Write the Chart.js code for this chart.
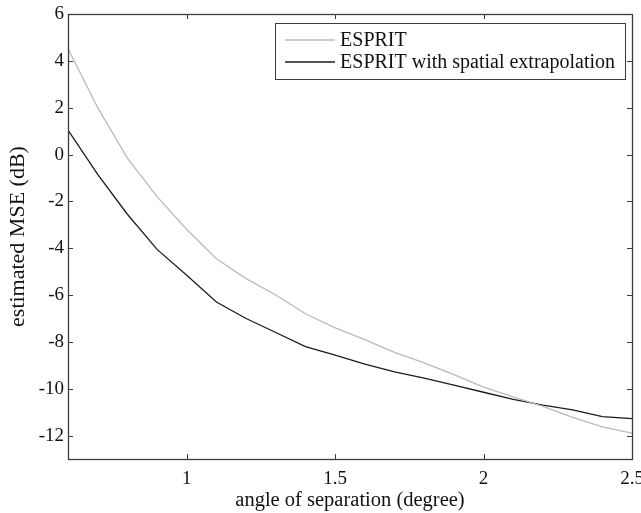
<!DOCTYPE html>
<html>
<head>
<meta charset="utf-8">
<script src="https://cdn.jsdelivr.net/npm/chart.js@4/dist/chart.umd.min.js"></script>
<style>
  html, body { margin: 0; padding: 0; background: #fff; }
  #wrap { width: 641px; height: 513px; }
</style>
</head>
<body>
<div id="wrap"><canvas id="mseChart" width="641" height="513"></canvas></div>
<script>
'use strict';

// angle of separation (degree)
const ANGLES = [0.6, 0.7, 0.8, 0.9, 1.0, 1.1, 1.2, 1.3, 1.4, 1.5, 1.6, 1.7, 1.8, 1.9, 2.0, 2.1, 2.2, 2.3, 2.4, 2.5];
// estimated MSE (dB)
const ESPRIT = [4.52, 2.0, -0.15, -1.8, -3.2, -4.45, -5.3, -6.0, -6.8, -7.4, -7.9, -8.45, -8.9, -9.4, -9.93, -10.35, -10.75, -11.22, -11.63, -11.9];
const ESPRIT_EXTRAP = [1.04, -0.85, -2.55, -4.05, -5.15, -6.3, -7.0, -7.6, -8.2, -8.57, -8.95, -9.28, -9.55, -9.85, -10.15, -10.45, -10.7, -10.9, -11.19, -11.28];
const X_TICKS = [1, 1.5, 2, 2.5];
const Y_TICKS = [-12, -10, -8, -6, -4, -2, 0, 2, 4, 6];

const FONT = 'Liberation Serif';
const AXIS_COLOR = '#3c3c3c';

let toPoints = (ys) => ANGLES.map((x, i) => ({ x: x, y: ys[i] }));

// frame with inward ticks on all four sides, plus boxed legend top right
const framePlugin = {
    id: 'frame',
    afterDatasetsDraw(chart) {
        const ctx = chart.ctx;
        const a = chart.chartArea;
        const xs = chart.scales.x;
        const ys = chart.scales.y;
        const tl = 5;
        ctx.save();
        ctx.strokeStyle = AXIS_COLOR;
        ctx.lineWidth = 1;
        ctx.beginPath();
        for (let v of X_TICKS) {
            const px = Math.round(xs.getPixelForValue(v)) + 0.5;
            ctx.moveTo(px, a.bottom); ctx.lineTo(px, a.bottom - tl);
            ctx.moveTo(px, a.top); ctx.lineTo(px, a.top + tl);
        }
        for (let v of Y_TICKS) {
            const py = Math.round(ys.getPixelForValue(v)) + 0.5;
            ctx.moveTo(a.left, py); ctx.lineTo(a.left + tl, py);
            ctx.moveTo(a.right, py); ctx.lineTo(a.right - tl, py);
        }
        ctx.stroke();
        ctx.lineWidth = 1.3;
        ctx.strokeRect(Math.round(a.left) + 0.5, Math.round(a.top) + 0.5,
            Math.round(a.right - a.left), Math.round(a.bottom - a.top));

        // legend
        const sets = chart.data.datasets;
        ctx.font = '20px "' + FONT + '"';
        let textW = 0;
        for (let d of sets) textW = Math.max(textW, ctx.measureText(d.label).width);
        const right = a.right - 7;
        const left = right - (10 + 50 + 5 + textW + 10);
        const top = a.top + 9;
        const rowH = 22;
        const bottom = top + 12 + rowH * sets.length;
        ctx.fillStyle = '#fff';
        ctx.fillRect(left, top, right - left, bottom - top);
        ctx.strokeStyle = AXIS_COLOR;
        ctx.lineWidth = 1;
        ctx.strokeRect(Math.round(left) + 0.5, Math.round(top) + 0.5, Math.round(right - left), Math.round(bottom - top));
        sets.forEach((d, i) => {
            const cy = top + 17 + i * rowH;
            ctx.strokeStyle = d.borderColor;
            ctx.lineWidth = d.borderWidth;
            ctx.beginPath();
            ctx.moveTo(left + 10, cy);
            ctx.lineTo(left + 60, cy);
            ctx.stroke();
            ctx.fillStyle = '#111';
            ctx.textBaseline = 'middle';
            ctx.textAlign = 'left';
            ctx.fillText(d.label, left + 65, cy + 1);
        });
        ctx.restore();
    }
};

window.onload = () => {
    const CHARTDOM = document.getElementById('mseChart');
    const chart = new Chart(CHARTDOM, {
        type: 'line',
        data: {
            datasets: [{
                label: 'ESPRIT',
                data: toPoints(ESPRIT),
                borderColor: '#bababa',
                borderWidth: 1.3,
                pointRadius: 0,
                tension: 0,
                fill: false
            }, {
                label: 'ESPRIT with spatial extrapolation',
                data: toPoints(ESPRIT_EXTRAP),
                borderColor: '#1c1c1c',
                borderWidth: 1.3,
                pointRadius: 0,
                tension: 0,
                fill: false
            }]
        },
        options: {
            responsive: false,
            animation: false,
            layout: { padding: { top: 14, right: 9, left: 0, bottom: 0 } },
            plugins: {
                legend: { display: false },
                tooltip: { enabled: false }
            },
            scales: {
                x: {
                    type: 'linear',
                    min: 0.6,
                    max: 2.5,
                    afterBuildTicks: (s) => { s.ticks = X_TICKS.map(v => ({ value: v })); },
                    afterFit: (s) => { s.height = 54; s.paddingLeft = 0; s.paddingRight = 0; },
                    grid: { display: false, drawTicks: false },
                    border: { display: false },
                    ticks: {
                        color: '#111',
                        font: { family: FONT, size: 19 },
                        padding: 9,
                        maxRotation: 0,
                        callback: (v) => String(v)
                    },
                    title: {
                        display: true,
                        text: 'angle of separation (degree)',
                        color: '#111',
                        font: { family: FONT, size: 20.5 },
                        padding: { top: 0, bottom: 0 }
                    }
                },
                y: {
                    min: -13,
                    max: 6,
                    afterBuildTicks: (s) => { s.ticks = Y_TICKS.map(v => ({ value: v })); },
                    afterFit: (s) => { s.width = 68; s.paddingTop = 0; s.paddingBottom = 0; },
                    grid: { display: false, drawTicks: false },
                    border: { display: false },
                    ticks: {
                        color: '#111',
                        font: { family: FONT, size: 19 },
                        padding: 4,
                        callback: (v) => String(v)
                    },
                    title: {
                        display: true,
                        text: 'estimated MSE (dB)',
                        color: '#111',
                        font: { family: FONT, size: 22 },
                        padding: { top: 5, bottom: 0 }
                    }
                }
            }
        },
        plugins: [framePlugin]
    });
};
</script>
</body>
</html>
